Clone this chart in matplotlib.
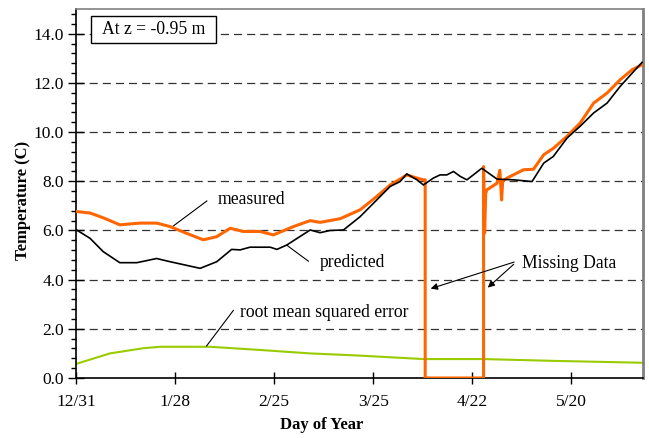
import matplotlib
matplotlib.use("Agg")
import matplotlib.pyplot as plt
from matplotlib.ticker import MultipleLocator
from matplotlib.patches import Rectangle

# ---- data (day 0 = 12/31) ----
meas_day = [0.2, 4.0, 8.0, 12.4, 18.1, 22.8, 26.6, 31.0, 36.0, 39.8, 43.6, 47.3, 52.0, 55.8,
            61.5, 66.2, 69.0, 74.7, 80.3, 85.0, 88.8, 91.6, 93.5, 96.4, 98.2, 98.7,
            98.7, 115.2, 115.2, 115.5, 115.8, 116.1, 119.0, 119.8, 120.3, 120.6, 121.8,
            126.5, 129.3, 132.2, 134.9, 138.8, 142.5, 146.3, 150.1, 153.8, 157.2, 160.0]
meas_val = [6.77, 6.71, 6.50, 6.23, 6.30, 6.30, 6.16, 5.90, 5.62, 5.75, 6.09, 5.96, 5.96, 5.82,
            6.16, 6.40, 6.33, 6.48, 6.84, 7.38, 7.85, 8.09, 8.26, 8.13, 8.06, 8.06,
            0.0, 0.0, 8.60, 5.90, 7.50, 7.65, 7.92, 8.45, 7.24, 8.00, 8.13,
            8.47, 8.49, 9.08, 9.34, 9.83, 10.37, 11.18, 11.59, 12.13, 12.54, 12.74]

pred_day = [0.2, 4.0, 7.7, 12.4, 17.2, 22.8, 26.6, 35.1, 39.8, 44.0, 46.4, 49.2, 54.9, 56.8,
            59.6, 66.2, 69.0, 71.8, 75.6, 80.3, 85.0, 88.8, 91.6, 93.5, 96.4, 98.2, 101.0,
            102.9, 104.8, 106.7, 108.6, 110.5, 114.7, 119.0, 123.7, 128.9, 132.2, 134.9,
            138.8, 142.5, 146.3, 150.1, 153.8, 157.2, 160.0]
pred_val = [6.02, 5.68, 5.14, 4.69, 4.69, 4.86, 4.73, 4.46, 4.73, 5.23, 5.21, 5.32, 5.32, 5.23,
            5.41, 6.02, 5.91, 6.00, 6.02, 6.56, 7.24, 7.79, 7.99, 8.30, 8.06, 7.85, 8.13,
            8.26, 8.26, 8.40, 8.20, 8.06, 8.53, 8.09, 8.06, 7.99, 8.74, 9.01,
            9.76, 10.24, 10.78, 11.18, 11.86, 12.40, 12.84]

rmse_day = [0.0, 9.6, 19.0, 23.8, 37.9, 52.0, 66.2, 80.3, 98.2, 115.2, 134.0, 160.0]
rmse_val = [0.57, 1.00, 1.21, 1.27, 1.27, 1.14, 1.00, 0.91, 0.77, 0.77, 0.70, 0.62]

xtick_pos = [0, 28, 56, 84, 112, 140]
xtick_lab = ["12/31", "1/28", "2/25", "3/25", "4/22", "5/20"]
ytick_pos = [0, 2, 4, 6, 8, 10, 12, 14]

plt.rcParams['font.family'] = ['Liberation Serif', 'DejaVu Serif']

fig = plt.figure(figsize=(6.49, 4.38), dpi=100)
ax = fig.add_axes([0.117, 0.137, 0.874, 0.842])

ax.set_xlim(0, 160.3)
ax.set_ylim(0, 15)

for y in ytick_pos[1:]:
    ax.axhline(y, color='#333333', lw=0.9, dashes=(6.5, 4), zorder=1)

ax.plot(rmse_day, rmse_val, color='#99CC00', lw=1.5, zorder=2)
ax.plot(meas_day, meas_val, color='#FF6600', lw=2.2, zorder=3)
ax.plot(pred_day, pred_val, color='black', lw=1.2, zorder=4)

ax.set_xticks(xtick_pos)
ax.set_xticklabels(xtick_lab, fontsize=12.5)
ax.set_yticks(ytick_pos)
ax.set_yticklabels([f"{v:.1f}" for v in ytick_pos], fontsize=12.5)
ax.yaxis.set_minor_locator(MultipleLocator(0.4))
ax.tick_params(axis='x', direction='inout', length=9, width=1, pad=7, colors='black')
ax.tick_params(axis='y', which='major', direction='inout', length=11, width=1, pad=3)
ax.tick_params(axis='y', which='minor', direction='out', length=3.6, width=1)

for s in ['top', 'right']:
    ax.spines[s].set_color('#808080')
ax.spines['right'].set_linewidth(2)
ax.spines['top'].set_linewidth(1.2)
ax.spines['left'].set_linewidth(1.2)
ax.spines['bottom'].set_linewidth(1.2)

ax.set_xlabel("Day of Year", fontsize=12, fontweight='bold')
ax.set_ylabel("Temperature (C)", fontsize=12, fontweight='bold')
ax.xaxis.set_label_coords(0.434, -0.105)
ax.yaxis.set_label_coords(-0.079, 0.481)

ax.add_patch(Rectangle((4.24, 13.63), 35.36, 1.10, fc='white', ec='black', lw=1, zorder=5))
ax.text(21.9, 14.18, "At z = -0.95 m", fontsize=12.7, va='center', ha='center', zorder=6)

fs = 12.7
ax.text(40.0, 7.25, "measured", fontsize=fs, va='center', ha='left')
ax.plot([37.0, 27.5], [7.2, 6.18], color='black', lw=0.8)

ax.text(69.0, 4.68, "predicted", fontsize=fs, va='center', ha='left')
ax.plot([65.7, 59.6], [4.75, 5.4], color='black', lw=0.8)

ax.text(46.5, 2.65, "root mean squared error", fontsize=fs, va='center', ha='left')
ax.plot([44.5, 36.9], [2.75, 1.3], color='black', lw=0.8)

ax.text(126.0, 4.65, "Missing Data", fontsize=fs, va='center', ha='left')
ax.annotate("", xy=(99.5, 3.6), xytext=(124.6, 4.75),
            arrowprops=dict(arrowstyle='-|>', color='black', lw=0.8, mutation_scale=10))
ax.annotate("", xy=(115.8, 3.6), xytext=(124.3, 4.7),
            arrowprops=dict(arrowstyle='-|>', color='black', lw=0.8, mutation_scale=10))

fig.savefig("out.png", dpi=100)
